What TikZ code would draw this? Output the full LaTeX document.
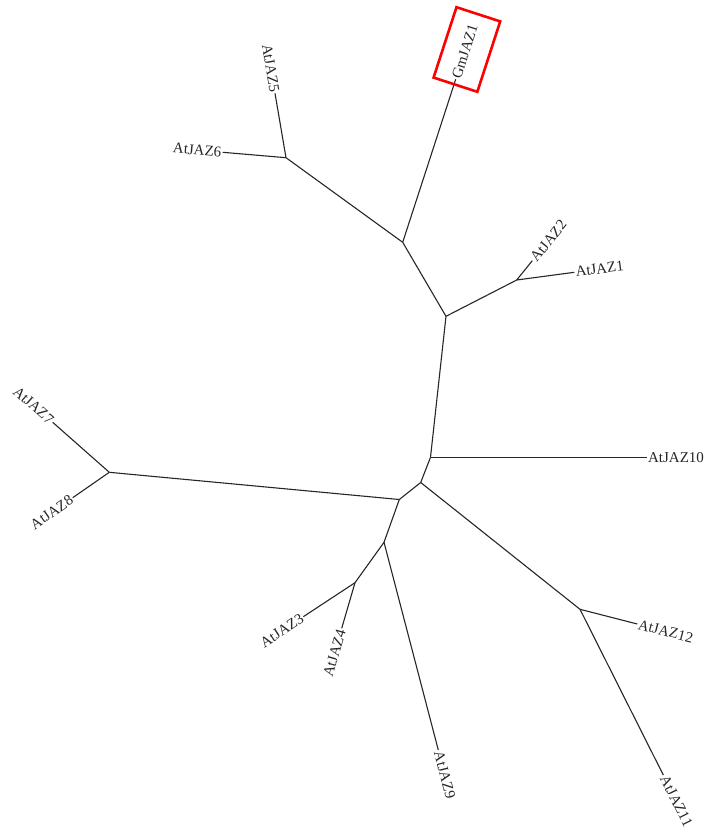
\documentclass[tikz,border=0pt]{standalone}
\usepackage{fontspec}
\setmainfont{Liberation Serif}
\begin{document}
\begin{tikzpicture}[x=1pt,y=-1pt,
  br/.style={line width=1.1pt, black!85},
  lab/.style={font=\fontsize{15}{15}\selectfont, inner sep=1.2pt, text=black!85},
  hl/.style={draw=red, line width=2.6pt}]
\useasboundingbox (0,0) rectangle (710,835);
% internal nodes
\coordinate (n56) at (286,157.7);
\coordinate (nX) at (402.7,242.3);
\coordinate (nY) at (446,316.3);
\coordinate (n12) at (516.7,280);
\coordinate (nR) at (430.5,457.3);
\coordinate (nQ) at (420.7,482.5);
\coordinate (nP) at (399.3,499.5);
\coordinate (n78) at (109.3,472.3);
\coordinate (nS) at (384,542.3);
\coordinate (nT) at (355,582.7);
\coordinate (nU) at (580,609.3);
% leaf tips
\coordinate (t5) at (275,93.3);
\coordinate (t6) at (222.7,152.3);
\coordinate (tG) at (455.7,79.3);
\coordinate (t2) at (532.3,260.7);
\coordinate (t1) at (574.3,272.3);
\coordinate (t10) at (646.7,457.3);
\coordinate (t7) at (52.7,422.3);
\coordinate (t8) at (72.7,497.7);
\coordinate (t3) at (303.3,616.7);
\coordinate (t4) at (341.7,628.3);
\coordinate (t9) at (438.3,750);
\coordinate (t12) at (637.3,624);
\coordinate (t11) at (663.3,775);
% branches
\draw[br] (n56) -- (t5);
\draw[br] (n56) -- (t6);
\draw[br] (nX) -- (n56);
\draw[br] (nX) -- (tG);
\draw[br] (nY) -- (nX);
\draw[br] (nY) -- (n12);
\draw[br] (n12) -- (t2);
\draw[br] (n12) -- (t1);
\draw[br] (nR) -- (nY);
\draw[br] (nR) -- (t10);
\draw[br] (nR) -- (nQ);
\draw[br] (nQ) -- (nP);
\draw[br] (nQ) -- (nU);
\draw[br] (nU) -- (t12);
\draw[br] (nU) -- (t11);
\draw[br] (nP) -- (n78);
\draw[br] (n78) -- (t7);
\draw[br] (n78) -- (t8);
\draw[br] (nP) -- (nS);
\draw[br] (nS) -- (t9);
\draw[br] (nS) -- (nT);
\draw[br] (nT) -- (t3);
\draw[br] (nT) -- (t4);
% labels
\node[lab, anchor=east, rotate=-80.3] (l5) at (t5) {AtJAZ5};
\node[lab, anchor=east, rotate=-5] (l6) at (t6) {AtJAZ6};
\node[lab, anchor=west, rotate=72] (lG) at (tG) {GmJAZ1};
\node[lab, anchor=west, rotate=51] (l2) at (t2) {AtJAZ2};
\node[lab, anchor=west, rotate=7.6] (l1) at (t1) {AtJAZ1};
\node[lab, anchor=west] (l10) at (t10) {AtJAZ10};
\node[lab, anchor=east, rotate=-41.5] (l7) at (t7) {AtJAZ7};
\node[lab, anchor=east, rotate=34.8] (l8) at (t8) {AtJAZ8};
\node[lab, anchor=east, rotate=33.3] (l3) at (t3) {AtJAZ3};
\node[lab, anchor=east, rotate=73.7] (l4) at (t4) {AtJAZ4};
\node[lab, anchor=west, rotate=-75.3] (l9) at (t9) {AtJAZ9};
\node[lab, anchor=west, rotate=-14.4] (l12) at (t12) {AtJAZ12};
\node[lab, anchor=west, rotate=-63.3] (l11) at (t11) {AtJAZ11};
% highlight box
\node[hl, rotate=72, minimum width=74pt, minimum height=46pt, inner sep=0pt] (box) at (466.9,49.5) {};
\end{tikzpicture}
\end{document}
